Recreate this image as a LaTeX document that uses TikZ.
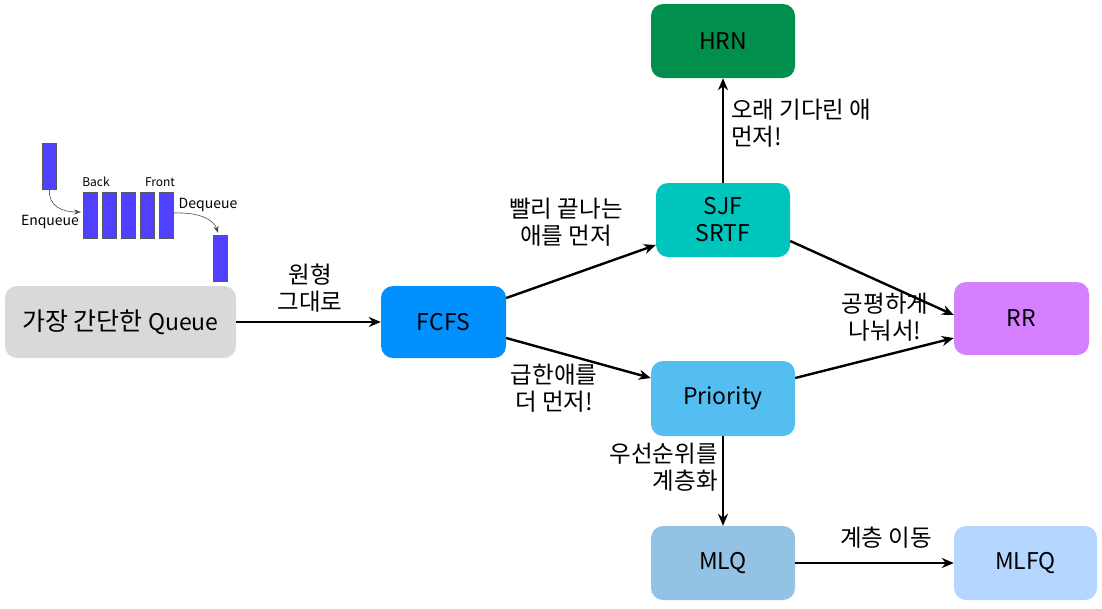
\documentclass[tikz,border=0pt]{standalone}
\usepackage{fontspec}
\setmainfont{Noto Sans CJK KR}
\setsansfont{Noto Sans CJK KR}
\usetikzlibrary{arrows.meta}
\definecolor{cqueue}{HTML}{D9D9D9}
\definecolor{cfcfs}{HTML}{0091FF}
\definecolor{csjf}{HTML}{00C5BD}
\definecolor{chrn}{HTML}{008F4C}
\definecolor{crr}{HTML}{D580FF}
\definecolor{cprio}{HTML}{55BEF0}
\definecolor{cmlq}{HTML}{93C2E4}
\definecolor{cmlfq}{HTML}{B5D7FF}
\definecolor{cbar}{HTML}{5040FF}
\tikzset{
  box/.style={rounded corners=12pt, inner sep=0pt, font=\fontsize{23}{27}\selectfont, align=center},
  conn/.style={line width=2.4pt, -{Stealth[length=12pt,width=10pt]}},
  lbl/.style={font=\fontsize{23.5}{26.5}\selectfont, align=center, inner sep=0pt},
  bar/.style={fill=cbar, draw=gray!70!black, line width=0.6pt, minimum width=14pt, minimum height=46pt, inner sep=0pt},
  small/.style={font=\fontsize{12}{14}\selectfont, inner sep=0pt},
  mid/.style={font=\fontsize{14}{16}\selectfont, inner sep=0pt},
  thin/.style={draw=gray!60!black, line width=0.6pt, -{Stealth[length=7pt,width=5pt]}}
}
\begin{document}
\begin{tikzpicture}[x=1pt,y=-1pt]
\useasboundingbox (0,0) rectangle (1102,608);
% boxes
\node[box, fill=cqueue, minimum width=231pt, minimum height=72pt] (q) at (120.5,322) {{\fontsize{25}{27}\selectfont 가장 간단한} Queue};
\node[box, fill=cfcfs, minimum width=125pt, minimum height=72pt] (fcfs) at (443.5,322) {FCFS};
\node[box, fill=csjf, minimum width=134pt, minimum height=74pt] (sjf) at (723,220) {SJF\\SRTF};
\node[box, fill=chrn, minimum width=144pt, minimum height=74pt] (hrn) at (723,41) {HRN};
\node[box, fill=crr, minimum width=135pt, minimum height=73pt] (rr) at (1021.5,318.5) {RR};
\node[box, fill=cprio, minimum width=144pt, minimum height=75pt] (prio) at (723,398.5) {Priority};
\node[box, fill=cmlq, minimum width=144pt, minimum height=74pt] (mlq) at (723,563) {MLQ};
\node[box, fill=cmlfq, minimum width=143pt, minimum height=74pt] (mlfq) at (1025.5,563) {MLFQ};
% connectors
\draw[conn] (q.east) -- (fcfs.west);
\draw[conn] (fcfs.east |- 0,298) -- (sjf.west |- 0,245);
\draw[conn] (fcfs.east |- 0,338) -- (prio.west |- 0,378);
\draw[conn] (sjf.north) -- (hrn.south);
\draw[conn] (sjf.east |- 0,241) -- (rr.west |- 0,315);
\draw[conn] (prio.east |- 0,378) -- (rr.west |- 0,338);
\draw[conn] (prio.south) -- (mlq.north);
\draw[conn] (mlq.east) -- (mlfq.west);
% labels
\node[lbl] (l1) at (310,288) {원형\\그대로};
\node[lbl] (l2) at (566,222) {빨리 끝나는\\애를 먼저};
\node[lbl] (l3) at (554,388) {급한애를\\더 먼저!};
\node[lbl, align=left, anchor=west] (l4) at (731,123) {오래 기다린 애\\먼저!};
\node[lbl] (l5) at (885,317) {공평하게\\나눠서!};
\node[lbl, align=right, anchor=east] (l6) at (718,467) {우선순위를\\계층화};
\node[lbl] (l7) at (886,538) {계층 이동};
% queue illustration
\node[bar] (b0) at (49.5,166) {};
\node[bar] (b1) at (90,215) {};
\node[bar] (b2) at (109,215) {};
\node[bar] (b3) at (128,215) {};
\node[bar] (b4) at (147,215) {};
\node[bar] (b5) at (166,215) {};
\node[bar] (b6) at (220.5,258.5) {};
\node[small] (back) at (96,182) {Back};
\node[small] (front) at (160,182) {Front};
\node[mid] (enq) at (50,222) {Enqueue};
\node[mid] (deq) at (208,205) {Dequeue};
\coordinate (e1) at (81,212);
\coordinate (d1) at (218,233);
\draw[thin] (b0.south) .. controls (48,206) and (62,212) .. (e1);
\draw[thin] (174,213) .. controls (200,212) and (214,220) .. (d1);
\end{tikzpicture}
\end{document}
